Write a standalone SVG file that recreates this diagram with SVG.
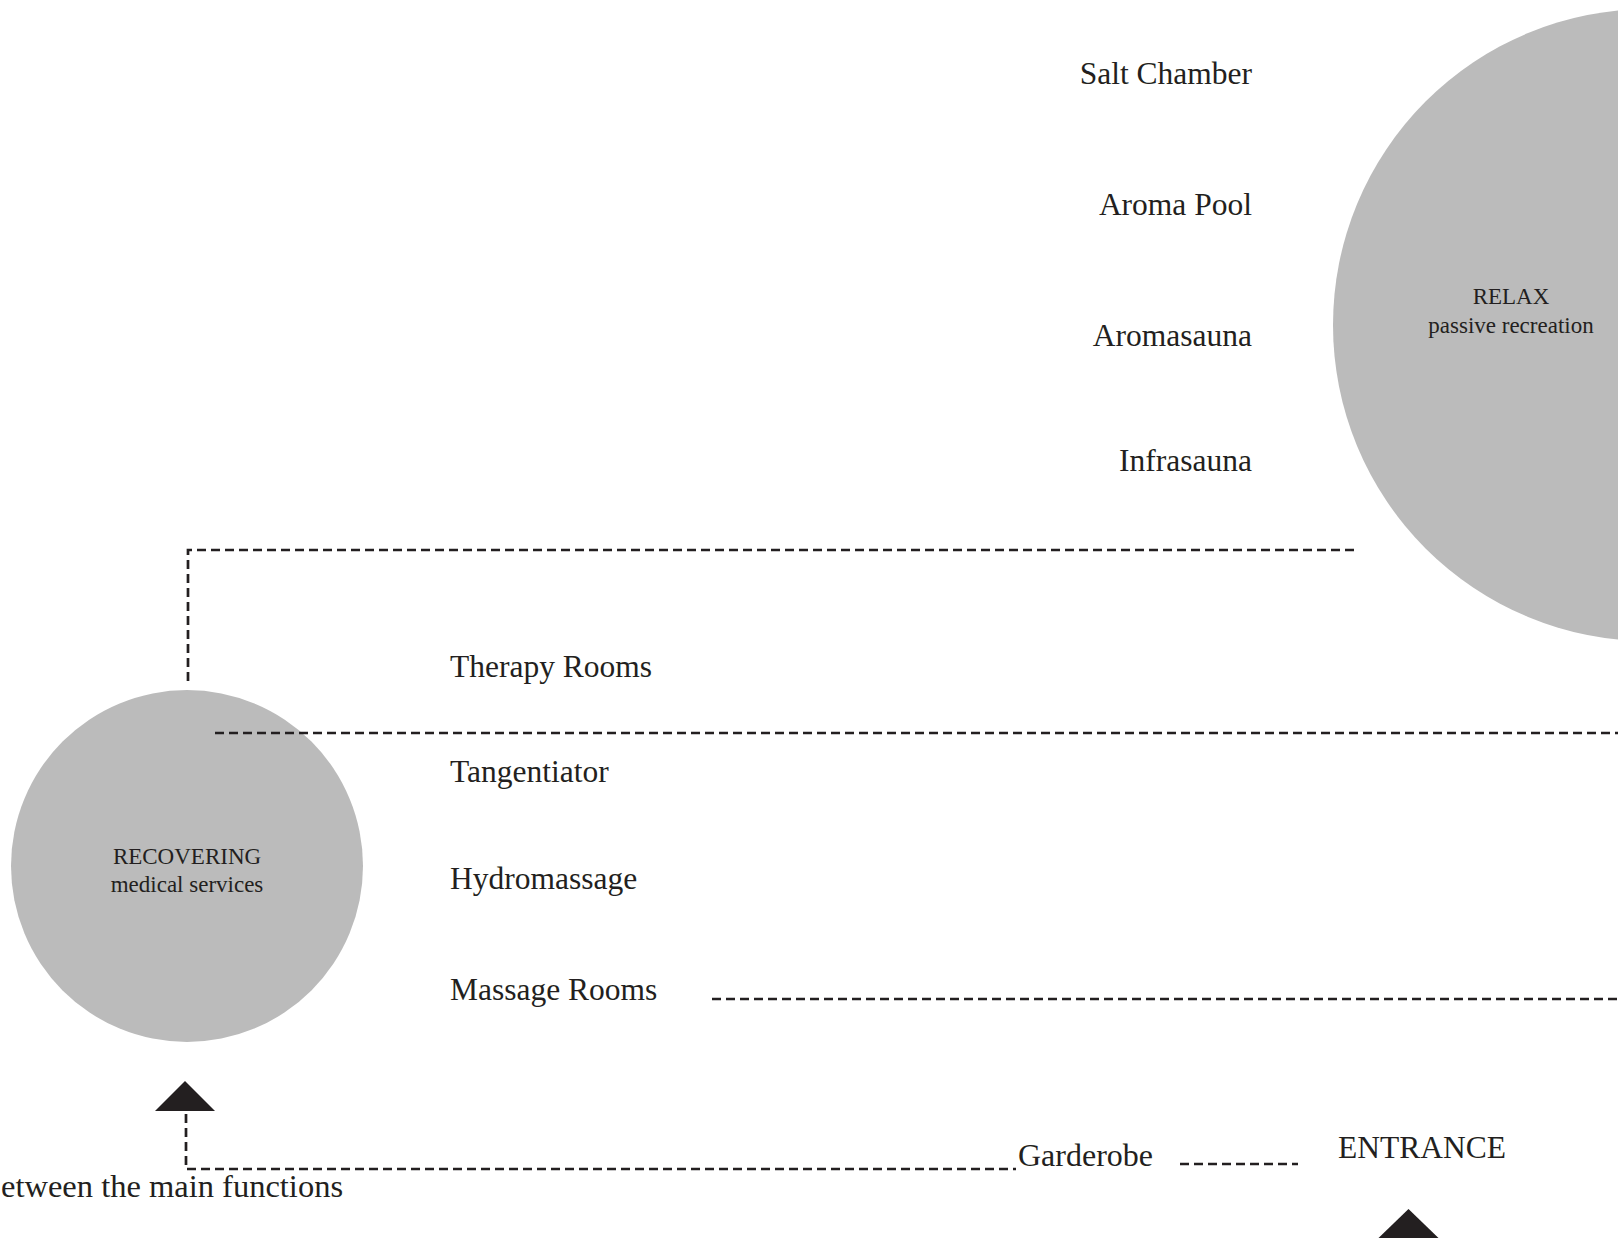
<svg xmlns="http://www.w3.org/2000/svg" width="1618" height="1248" viewBox="0 0 1618 1248">
<style>
.bg{fill:#ffffff}
.zone{fill:#bbbbbb}
.lbl{font-family:"Liberation Serif","Times New Roman",serif;font-size:31.5px;fill:#231f20}
.ztxt{font-family:"Liberation Serif","Times New Roman",serif;font-size:23px;fill:#231f20;text-anchor:middle}
.dash{fill:none;stroke:#231f20;stroke-width:2.7;stroke-dasharray:9 5}
.tri{fill:#231f20}
</style>
<rect class="bg" x="0" y="0" width="1618" height="1248"/>
<g id="relax">
<circle class="zone" cx="1649" cy="325" r="316"/>
<text class="ztxt" x="1511" y="304">RELAX</text>
<text class="ztxt" x="1511" y="333">passive recreation</text>
</g>
<g id="recovering">
<circle class="zone" cx="187" cy="866" r="176"/>
<text class="ztxt" x="187" y="864">RECOVERING</text>
<text class="ztxt" x="187" y="892">medical services</text>
</g>
<g id="relax-items" class="lbl" text-anchor="end">
<text id="salt-chamber" x="1252" y="84">Salt Chamber</text>
<text id="aroma-pool" x="1252" y="215">Aroma Pool</text>
<text id="aromasauna" x="1252" y="346">Aromasauna</text>
<text id="infrasauna" x="1252" y="471">Infrasauna</text>
</g>
<g id="recovering-items" class="lbl">
<text id="therapy-rooms" x="450" y="677">Therapy Rooms</text>
<text id="tangentiator" x="450" y="782">Tangentiator</text>
<text id="hydromassage" x="450" y="889">Hydromassage</text>
<text id="massage-rooms" x="450" y="1000">Massage Rooms</text>
</g>
<g id="garderobe"><text class="lbl" x="1018" y="1166" style="font-size:32px">Garderobe</text></g>
<g id="entrance"><text class="lbl" x="1338" y="1158">ENTRANCE</text>
<polygon class="tri" points="1408.5,1209 1438.5,1238 1378.5,1238"/></g>
<g id="caption"><text class="lbl" x="1" y="1197" style="font-size:32.5px">etween the main functions</text></g>
<g id="connectors">
<polyline class="dash" points="188,681 188,550 1355,550"/>
<line class="dash" x1="215" y1="733" x2="1618" y2="733"/>
<line class="dash" x1="712" y1="999" x2="1618" y2="999"/>
<polyline class="dash" points="186,1114 186,1169 1016,1169"/>
<line class="dash" x1="1180" y1="1164" x2="1298" y2="1164"/>
<polygon class="tri" points="185,1081 215,1111 155,1111"/>
</g>
</svg>
